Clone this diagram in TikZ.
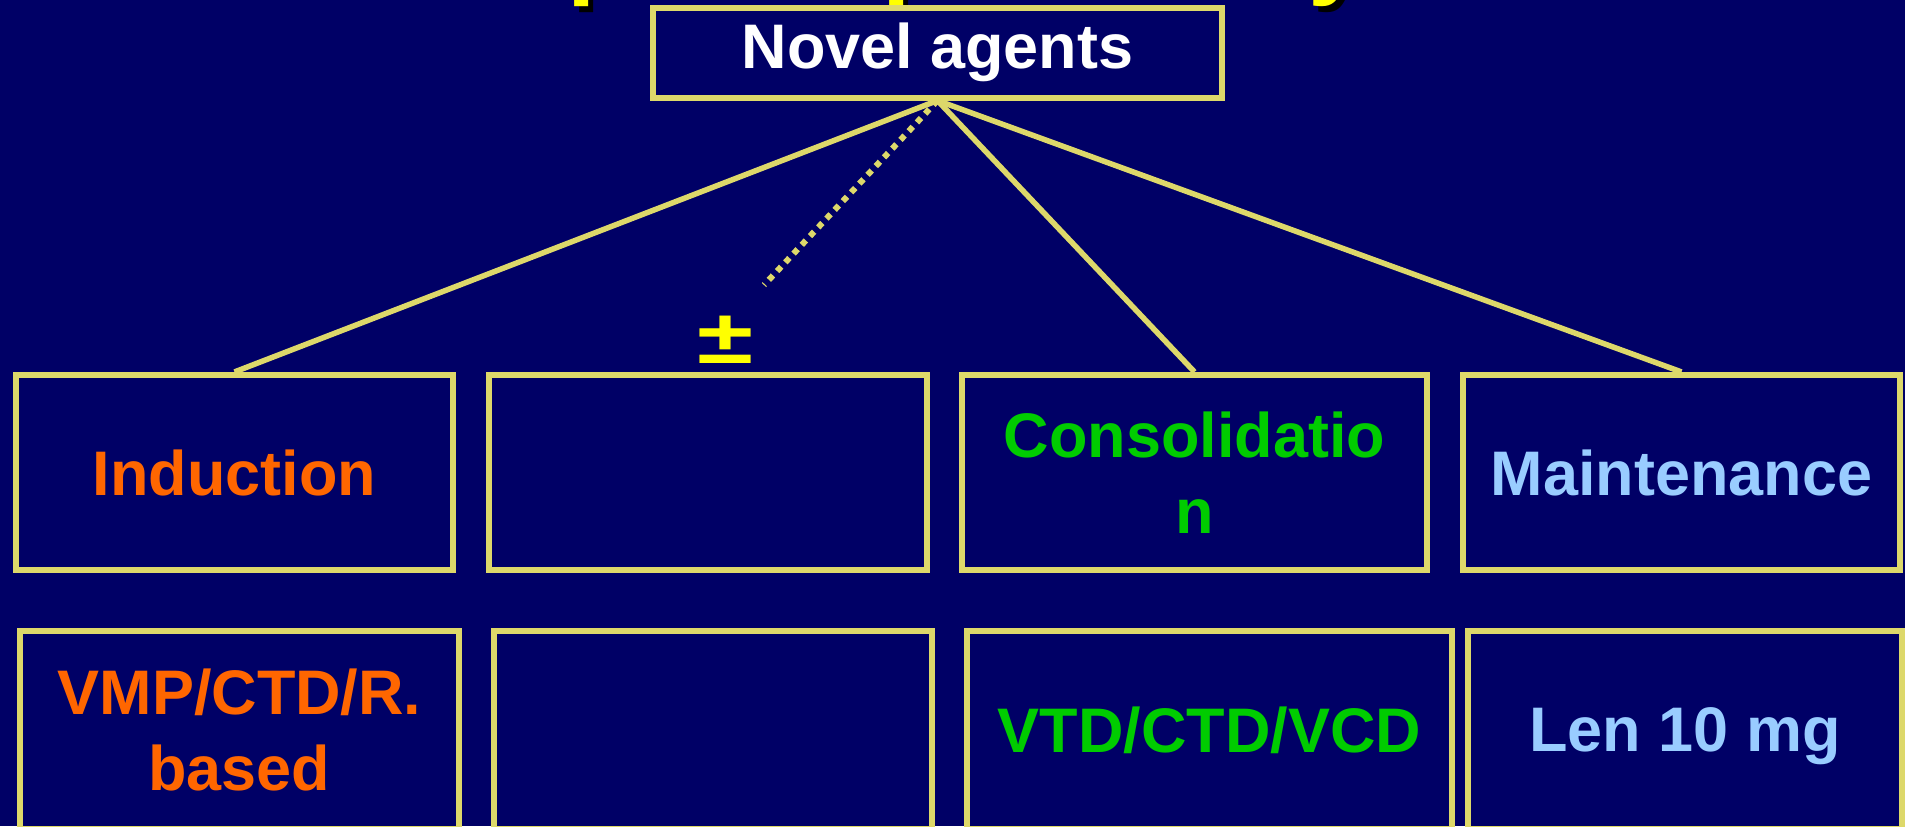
\documentclass[tikz,border=0pt]{standalone}
\usepackage{fontspec}
\setmainfont{Liberation Sans}
\definecolor{bg}{HTML}{000066}
\definecolor{gold}{HTML}{DDD86A}
\definecolor{orangetxt}{HTML}{FF6600}
\definecolor{greentxt}{HTML}{00CC00}
\definecolor{bluetxt}{HTML}{99CCFF}
\definecolor{yellowtxt}{HTML}{FFFF00}
\newcommand\mybf{\fontsize{17.9}{21.6}\selectfont\bfseries}
\newcommand\mytitlefont{\fontsize{29}{34}\selectfont\bfseries}
\tikzset{
  boxx/.style={draw=gold, line width=0.06cm, fill=bg, inner sep=0pt,
    align=center, font=\mybf},
  conn/.style={draw=gold, line width=0.055cm},
  dotconn/.style={draw=gold, line width=0.06cm, dash pattern=on 0.06cm off 0.06cm},
  titleglyph/.style={inner sep=0pt, anchor=base west, font=\mytitlefont, text=yellowtxt},
  titleshadow/.style={inner sep=0pt, anchor=base west, font=\mytitlefont, text=black}
}
\begin{document}
\begin{tikzpicture}[x=0.01cm,y=-0.01cm]
\useasboundingbox (0,0) rectangle (1905,826);
\clip (0,0) rectangle (1905,826);
\fill[bg] (0,0) rectangle (1905,826);
% cut-off title descenders
\node[titleshadow] (t1s) at (572,-9) {p};
\node[titleglyph] (t1) at (567,-15) {p};
\node[titleshadow] (t2s) at (887,-9) {p};
\node[titleglyph] (t2) at (882,-15) {p};
\node[titleshadow] (t3s) at (1313,-9) {y};
\node[titleglyph] (t3) at (1308,-15) {y};
% top box
\node[boxx, minimum width=5.69cm, minimum height=0.895cm, text=white] (novel) at (937.5,52.75) {Novel agents};
% row 1
\node[boxx, minimum width=4.37cm, minimum height=1.95cm, text=orangetxt] (ind) at (234.5,472.5) {Induction};
\node[boxx, minimum width=4.38cm, minimum height=1.95cm] (e1) at (708,472.5) {};
\node[boxx, minimum width=4.65cm, minimum height=1.95cm, text=greentxt] (cons) at (1194.5,472.5) {Consolidatio\\n};
\node[boxx, minimum width=4.37cm, minimum height=1.95cm, text=bluetxt] (maint) at (1681.5,472.5) {Maintenance};
% row 2
\node[boxx, minimum width=4.39cm, minimum height=1.98cm, text=orangetxt] (vmp) at (239.5,730) {VMP/CTD/R.\\based};
\node[boxx, minimum width=4.38cm, minimum height=1.98cm] (e2) at (713,730) {};
\node[boxx, minimum width=4.85cm, minimum height=1.98cm, text=greentxt] (vtd) at (1209.5,730) {VTD/CTD/VCD};
\node[boxx, minimum width=4.34cm, minimum height=1.98cm, text=bluetxt, text depth=0pt] (len) at (1685,730) {Len 10 mg};
% connectors
\coordinate (dotend) at (764,285);
\draw[conn] (novel.south) -- (ind.north);
\draw[conn] (novel.south) -- (cons.north);
\draw[conn] (novel.south) -- (maint.north);
\draw[dotconn] (novel.south) -- (dotend);
\node[inner sep=0pt, anchor=base, font=\mytitlefont, text=yellowtxt] (pm) at (725,363) {\scalebox{1}[0.75]{±}};
\end{tikzpicture}
\end{document}
